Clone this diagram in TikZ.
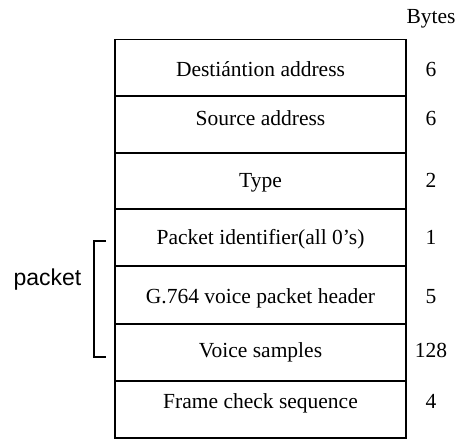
\documentclass[tikz,border=0pt]{standalone}
\usepackage{fontspec}
\setmainfont{Liberation Serif}
\newfontfamily\pktfont{Liberation Sans}
\tikzset{
  field/.style={draw,line width=1.3pt,minimum width=291pt,minimum height=57pt,inner sep=0pt},
  fieldtext/.style={anchor=base,inner sep=0pt,font=\fontsize{21.5}{24}\selectfont},
  bytecount/.style={anchor=base,inner sep=0pt,font=\fontsize{21.5}{24}\selectfont}
}
\begin{document}
\begin{tikzpicture}[x=1pt,y=-1pt]
\useasboundingbox (0,0) rectangle (462,440);
\node[bytecount] (bytes) at (431,23) {Bytes};
\foreach \i/\yc/\yb/\txt/\n in {1/68/76/Destiántion address/6,
    2/124.5/125/Source address/6,
    3/181/187/Type/2,
    4/237.5/244/Packet identifier(all 0's)/1,
    5/295/303/G.764 voice packet header/5,
    6/352.5/357/Voice samples/128,
    7/409.5/408/Frame check sequence/4}
{
  \node[field] (f\i) at (260.5,\yc) {};
  \node[fieldtext] (t\i) at (260.5,\yb) {\txt};
  \node[bytecount] (b\i) at (431,\yb) {\n};
}
\node[anchor=base,inner sep=0pt,font=\pktfont\fontsize{23}{26}\selectfont] (packet) at (47.5,285) {packet};
\draw[line width=1.3pt] (106,241) -- (94,241) -- (94,357) -- (106,357);
\end{tikzpicture}
\end{document}
